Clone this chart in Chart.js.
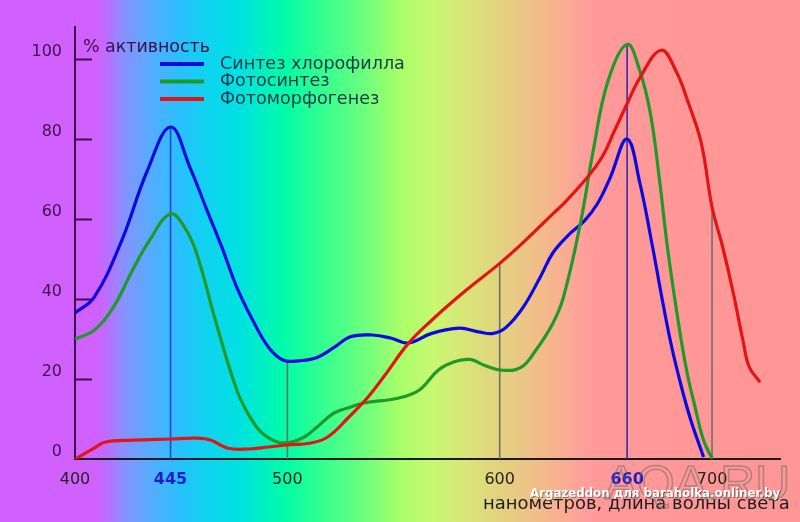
<!DOCTYPE html>
<html>
<head>
<meta charset="utf-8">
<script src="https://cdn.jsdelivr.net/npm/chart.js@4.4.1/dist/chart.umd.min.js"></script>
<style>
  html, body { margin: 0; padding: 0; background: #ff9898; }
  #wrap { width: 800px; height: 522px; position: relative; }
</style>
</head>
<body>
<div id="wrap"><canvas id="c"></canvas></div>
<script>
// ---------- DATA ----------
const seriesNames = ['Синтез хлорофилла', 'Фотосинтез', 'Фотоморфогенез'];

const chlNm  = [400,409,422,434,445,454.2,461.7,469.2,476.2,483.7,491.2,498.2,506,514,522,530,540,549,557,568,581,590,597,603,611,619,625,632,640,646,652,660,666,672,676.6,681,685.6,690,696];
const chlVal = [36.5,40.4,54.6,72,83,72.8,62.8,52.9,42.9,34.7,27.9,24.7,24.6,25.4,27.9,30.6,31,30.2,29,31.4,32.7,31.8,31.4,32.9,37.9,45.4,51.5,55.8,59.6,63.8,70.3,80,69,53,39.7,28,18,9.7,0.5];

const photoNm  = [400,409,418,427,435,445,451.6,457.3,466.1,476.2,482.4,488.1,495.6,501.4,508,514,522,530,536,552,562,571,578,586,593,601,610,617,625,630,638,644,651,660,666,671,675.3,679,683.5,688,692,696,700];
const photoVal = [30,32.2,37.9,47.1,54.6,61.3,57.9,51.4,34.7,17.2,10.5,6.5,4.2,4.2,5.5,8,11.5,13,14,15.2,17.2,22.2,24.2,24.9,23.4,22.2,22.9,27.2,33.9,40.4,58.9,77,94.5,103.7,97,86.3,69.6,52.9,36.4,22.2,13,4.7,0.2];

const morphNm  = [400,409,414,427,445,457,464,472,482,491,500,511,519,529,538,546,557,568,584,600,612,625,630,640,648,654,660,666,676,683,689,695,700,705,710,714.6,717.5,722.6];
const morphVal = [0,2.7,4.2,4.7,5,5.2,4.7,2.7,2.5,3,3.5,4,5.5,10.5,15.5,21,28.9,34.7,42.1,48.9,54.6,61.3,63.8,69.6,75.3,82,88.8,95.3,102.2,97,88.8,78.8,63,53,41.5,29.5,23,19.2];

// vertical drop lines: wavelength and height (value where they meet a curve)
const dropNm  = [445, 500, 600, 660, 700];
const dropTop = [83, 24.7, 49, 103.7, 62];

const xTicks = [400, 445, 500, 600, 660, 700];
const xHighlighted = [445, 660];
const yTicks = [0, 20, 40, 60, 80, 100];

const yTitle = '% активность';
const xTitle = 'нанометров, длина волны света';
const watermark1 = 'Argazeddon для baraholka.onliner.by';
const watermark2 = 'AQA.RU';

// ---------- STYLE ----------
const FONT = '"DejaVu Sans", Verdana, sans-serif';
const seriesColors = ['#0a0ae0', '#1f9a28', '#e41414'];
const dropColors = ['#2244d8', '#6e6e6e', '#6e6e6e', '#3a2ca8', '#6e6e6e'];
const axisPurple = '#3a1046';

const pairs = (xs, ys) => xs.map((x, i) => ({ x: x, y: ys[i] }));
const isHi = ctx => !!(ctx && ctx.tick && xHighlighted.includes(ctx.tick.value));

const datasets = [];
dropNm.forEach((nm, i) => {
  datasets.push({
    label: 'drop' + i,
    data: [{ x: nm, y: 0 }, { x: nm, y: dropTop[i] }],
    borderColor: dropColors[i],
    borderWidth: 1.6,
    pointRadius: 0,
    order: 10,
    isDrop: true
  });
});
[[chlNm, chlVal], [photoNm, photoVal], [morphNm, morphVal]].forEach((s, i) => {
  datasets.push({
    label: seriesNames[i],
    data: pairs(s[0], s[1]),
    borderColor: seriesColors[i],
    borderWidth: 3.2,
    pointRadius: 0,
    tension: 0.4,
    order: 3 - i
  });
});

function fitSize(ctx, text, weight, family, width) {
  ctx.font = weight + ' 20px ' + family;
  return 20 * width / ctx.measureText(text).width;
}

const bgPlugin = {
  id: 'bg',
  beforeDraw(chart) {
    const ctx = chart.ctx, w = chart.width, h = chart.height;
    const g = ctx.createLinearGradient(0, 0, w, 0);
    const stops = [
      [0, '#d060ff'], [97, '#d060ff'], [110, '#b274ff'], [123, '#8890ff'], [150, '#56acff'],
      [180, '#28c0ff'], [205, '#10d2f0'], [240, '#00e2e0'], [283, '#00fca8'], [320, '#30ff92'],
      [367, '#70ff7c'], [400, '#a8ff68'], [433, '#c8f870'], [467, '#dae478'], [500, '#e2d280'],
      [533, '#f0c088'], [560, '#f8b090'], [582, '#ffa09c'], [605, '#ff9898'], [800, '#ff9696']
    ];
    stops.forEach(s => g.addColorStop(s[0] / 800, s[1]));
    ctx.save();
    ctx.fillStyle = g;
    ctx.fillRect(0, 0, w, h);
    ctx.restore();
  }
};

const decoPlugin = {
  id: 'deco',
  afterDraw(chart) {
    const ctx = chart.ctx;
    const ys = chart.scales.y;
    const left = chart.chartArea.left;
    ctx.save();
    ctx.strokeStyle = axisPurple;
    ctx.lineWidth = 2;
    yTicks.forEach(v => {
      if (v === 0) return;
      const py = Math.round(ys.getPixelForValue(v)) + 0.5;
      ctx.beginPath();
      ctx.moveTo(left, py);
      ctx.lineTo(left + 17, py);
      ctx.stroke();
    });
    ctx.textBaseline = 'middle';
    ctx.textAlign = 'left';
    ctx.fillStyle = axisPurple;
    ctx.font = 'normal ' + fitSize(ctx, yTitle, 'normal', FONT, 127).toFixed(2) + 'px ' + FONT;
    ctx.fillText(yTitle, 83, 47);
    const series = chart.data.datasets.filter(d => !d.isDrop);
    const lsize = fitSize(ctx, series[0].label, 'normal', FONT, 185);
    series.forEach((d, i) => {
      const y = 64 + i * 17.5;
      ctx.strokeStyle = d.borderColor;
      ctx.lineWidth = 4;
      ctx.beginPath();
      ctx.moveTo(160, y);
      ctx.lineTo(204, y);
      ctx.stroke();
      ctx.fillStyle = '#173a48';
      ctx.font = 'normal ' + lsize.toFixed(2) + 'px ' + FONT;
      ctx.fillText(d.label, 220, y);
    });
    ctx.fillStyle = '#1e1e1e';
    ctx.textAlign = 'left';
    ctx.font = 'normal ' + fitSize(ctx, xTitle, 'normal', FONT, 307).toFixed(2) + 'px ' + FONT;
    ctx.fillText(xTitle, 483, 504);
    const af = '"Liberation Sans", Arial, sans-serif';
    ctx.font = 'normal ' + fitSize(ctx, watermark2, 'normal', af, 185).toFixed(2) + 'px ' + af;
    ctx.strokeStyle = 'rgba(110,110,110,0.55)';
    ctx.lineWidth = 1.5;
    ctx.strokeText(watermark2, 605, 486);
    const wf = '"Liberation Sans Narrow", "DejaVu Sans Condensed", "Liberation Sans", sans-serif';
    ctx.font = 'bold ' + fitSize(ctx, watermark1, 'bold', wf, 250).toFixed(2) + 'px ' + wf;
    ctx.fillStyle = 'rgba(40,40,40,0.5)';
    ctx.fillText(watermark1, 531, 495);
    ctx.fillStyle = '#ffffff';
    ctx.fillText(watermark1, 530, 494);
    ctx.restore();
  }
};

new Chart(document.getElementById('c'), {
  type: 'line',
  data: { datasets: datasets },
  plugins: [bgPlugin, decoPlugin],
  options: {
    responsive: true,
    maintainAspectRatio: false,
    animation: false,
    layout: { padding: { left: 0, right: 20, top: 27, bottom: 0 } },
    plugins: { legend: { display: false }, tooltip: { enabled: false } },
    scales: {
      x: {
        type: 'linear',
        min: 400,
        max: 732,
        afterFit(s) { s.height = 63; },
        afterBuildTicks(s) { s.ticks = xTicks.map(v => ({ value: v })); },
        grid: { display: false, drawTicks: false },
        border: { display: true, color: '#1a1a1a', width: 2 },
        ticks: {
          padding: 11,
          autoSkip: false,
          maxRotation: 0,
          color: ctx => isHi(ctx) ? '#1c1cc8' : '#24241c',
          font: ctx => ({ family: FONT, size: 16, weight: isHi(ctx) ? 'bold' : 'normal' }),
          callback: v => String(v)
        }
      },
      y: {
        type: 'linear',
        min: 0,
        max: 108,
        afterFit(s) { s.width = 75; },
        afterBuildTicks(s) { s.ticks = yTicks.map(v => ({ value: v })); },
        grid: { display: false, drawTicks: false },
        border: { display: true, color: axisPurple, width: 2 },
        ticks: {
          padding: 13,
          labelOffset: -7,
          color: axisPurple,
          font: { family: FONT, size: 16 },
          callback: v => String(v)
        }
      }
    }
  }
});
</script>
</body>
</html>
